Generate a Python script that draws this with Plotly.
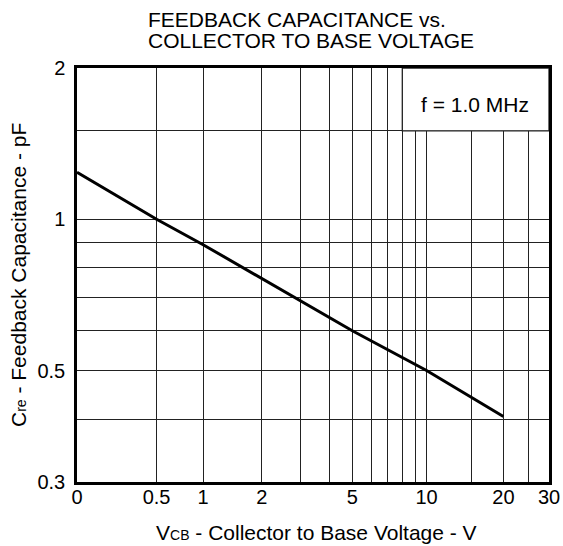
import math
import plotly.graph_objects as go

# Data
v_cb = [0, 0.5, 1, 5, 10, 20]
c_re = [1.24, 1.0, 0.89, 0.60, 0.50, 0.405]

# Axis offset: x axis drawn as log(V + X_OFFSET)
X_OFFSET = 0.5
x_grid = [0, 0.5, 1, 2, 3, 4, 5, 6, 7, 8, 9, 10, 15, 20, 25, 30]
x_labels = ["0", "0.5", "1", "2", "", "", "5", "", "", "", "", "10", "", "20", "", "30"]
y_grid = [0.3, 0.4, 0.5, 0.6, 0.7, 0.8, 0.9, 1, 1.5, 2]
y_labels = ["0.3", "", "0.5", "", "", "", "", "1", "", "2"]

FONT = "Liberation Sans, Arial, sans-serif"
FS = 20
W, H = 563, 546
ML, MR, MT, MB = 77, 14, 68, 64
PW, PH = W - ML - MR, H - MT - MB


def px(xp):
    return (xp - ML) / PW


def py(yp):
    return (H - MB - yp) / PH


fig = go.Figure()
fig.add_trace(go.Scatter(
    x=[v + X_OFFSET for v in v_cb], y=c_re, mode="lines",
    line=dict(color="black", width=3), showlegend=False, hoverinfo="skip"))

fig.add_shape(type="rect", xref="x", yref="y",
              x0=8 + X_OFFSET, x1=30 + X_OFFSET, y0=1.5, y1=2,
              fillcolor="white", line=dict(color="#222", width=1.3), layer="above")

fig.add_annotation(text="f = 1.0 MHz", xref="paper", yref="paper",
                   x=px(475), y=py(104), xanchor="center", yanchor="middle",
                   showarrow=False,
                   font=dict(family=FONT, size=21, color="black"))

# Title (two left-aligned lines)
fig.add_annotation(text="FEEDBACK CAPACITANCE vs.", xref="paper", yref="paper",
                   x=px(146), y=py(19.5), xanchor="left", yanchor="middle", showarrow=False,
                   font=dict(family=FONT, size=21, color="black"))
fig.add_annotation(text="COLLECTOR TO BASE VOLTAGE", xref="paper", yref="paper",
                   x=px(146), y=py(40.4), xanchor="left", yanchor="middle", showarrow=False,
                   font=dict(family=FONT, size=21, color="black"))

# Axis titles
fig.add_annotation(text="V<span style='font-size:14px'>CB</span> - Collector to Base Voltage - V",
                   xref="paper", yref="paper", x=px(316), y=py(532),
                   xanchor="center", yanchor="middle", showarrow=False,
                   font=dict(family=FONT, size=21, color="black"))
fig.add_annotation(text="C<span style='font-size:14px'>re</span> - Feedback Capacitance - pF",
                   xref="paper", yref="paper", x=px(18), y=py(275), textangle=-90,
                   xanchor="center", yanchor="middle", showarrow=False,
                   font=dict(family=FONT, size=21, color="black"))

fig.update_layout(
    width=W, height=H,
    margin=dict(l=ML, r=MR, t=MT, b=MB),
    paper_bgcolor="white", plot_bgcolor="white",
    font=dict(family=FONT, size=FS, color="black"),
)
fig.update_xaxes(
    type="log", range=[math.log10(0 + X_OFFSET), math.log10(30 + X_OFFSET)],
    tickmode="array", tickvals=[v + X_OFFSET for v in x_grid], ticktext=x_labels,
    showgrid=True, gridcolor="#222", gridwidth=1.3,
    showline=True, linecolor="black", linewidth=2.5, mirror=True,
    ticks="outside", ticklen=3, tickcolor="rgba(0,0,0,0)", zeroline=False,
    ticklabelstandoff=-8,
    automargin=False,
    tickfont=dict(family=FONT, size=FS, color="black"),
)
fig.update_yaxes(
    type="log", range=[math.log10(0.3), math.log10(2)],
    tickmode="array", tickvals=y_grid, ticktext=y_labels,
    showgrid=True, gridcolor="#222", gridwidth=1.3,
    showline=True, linecolor="black", linewidth=2.5, mirror=True,
    ticks="outside", ticklen=5, tickcolor="rgba(0,0,0,0)", zeroline=False,
    automargin=False,
    tickfont=dict(family=FONT, size=FS, color="black"),
)

fig.write_html("out.html", config={"displayModeBar": False},
               post_script="document.body.style.margin='0px';")
